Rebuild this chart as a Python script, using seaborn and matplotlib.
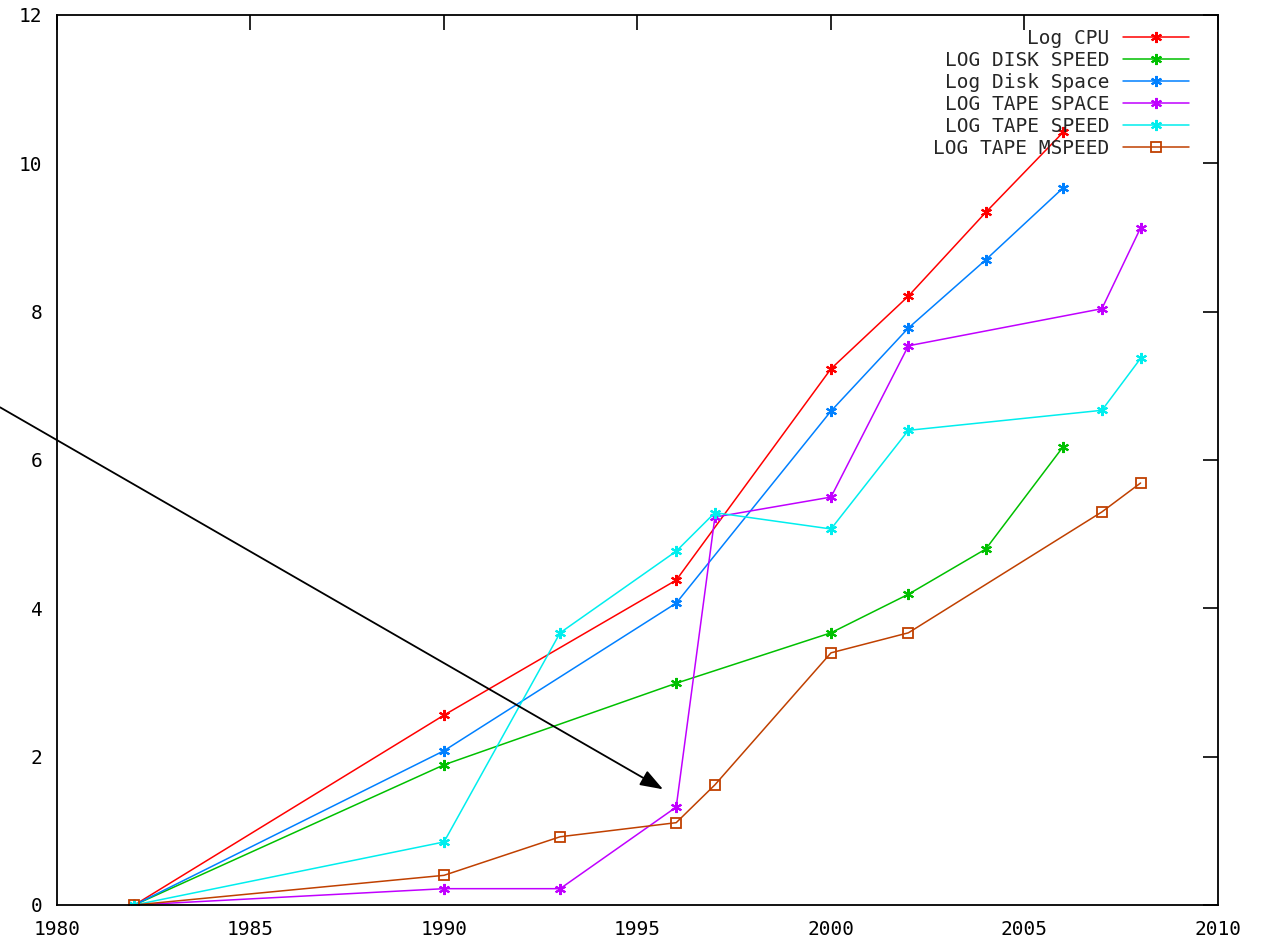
import matplotlib
matplotlib.use("Agg")
import matplotlib.pyplot as plt
import seaborn as sns
import pandas as pd

# ---- data ----
cpu_years = [1982, 1990, 1996, 2000, 2002, 2004, 2006]
cpu_vals = [0.0, 2.56, 4.38, 7.23, 8.21, 9.34, 10.42]

dspeed_years = [1982, 1990, 1996, 2000, 2002, 2004, 2006]
dspeed_vals = [0.0, 1.89, 2.99, 3.67, 4.19, 4.80, 6.18]

dspace_years = [1982, 1990, 1996, 2000, 2002, 2004, 2006]
dspace_vals = [0.0, 2.08, 4.07, 6.66, 7.78, 8.70, 9.67]

tspace_years = [1982, 1990, 1993, 1996, 1997, 2000, 2002, 2007, 2008]
tspace_vals = [0.0, 0.22, 0.22, 1.32, 5.23, 5.50, 7.54, 8.04, 9.13]

tspeed_years = [1982, 1990, 1993, 1996, 1997, 2000, 2002, 2007, 2008]
tspeed_vals = [0.0, 0.85, 3.67, 4.77, 5.29, 5.07, 6.40, 6.67, 7.37]

tmspeed_years = [1982, 1990, 1993, 1996, 1997, 2000, 2002, 2007, 2008]
tmspeed_vals = [0.0, 0.40, 0.92, 1.11, 1.62, 3.40, 3.67, 5.30, 5.69]

series_names = ["Log CPU", "LOG DISK SPEED", "Log Disk Space",
                "LOG TAPE SPACE", "LOG TAPE SPEED", "LOG TAPE MSPEED"]
series_colors = ["#ff0000", "#00c000", "#0080ff", "#c000ff", "#00eeee", "#c04000"]

x_ticks = [1980, 1985, 1990, 1995, 2000, 2005, 2010]
y_ticks = [0, 2, 4, 6, 8, 10, 12]

# arrow annotation (data coords)
arrow_tail = (1978.53, 6.71)
arrow_head = (1995.66, 1.56)

# ---- build table ----
all_series = [(cpu_years, cpu_vals), (dspeed_years, dspeed_vals),
              (dspace_years, dspace_vals), (tspace_years, tspace_vals),
              (tspeed_years, tspeed_vals), (tmspeed_years, tmspeed_vals)]
frames = []
for name, (xs, ys) in zip(series_names, all_series):
    frames.append(pd.DataFrame({"year": xs, "value": ys, "series": name}))
df = pd.concat(frames, ignore_index=True)

sns.set_style("white")
plt.rcParams["font.family"] = ["DejaVu Sans Mono", "DejaVu Sans"]

fig = plt.figure(figsize=(12.61, 9.38), dpi=100)
ax = fig.add_axes([57 / 1261, 1 - 905 / 938, (1218 - 57) / 1261, (905 - 15) / 938])

asterisk = (6, 2, 0)
for name, color in zip(series_names, series_colors):
    sub = df[df["series"] == name]
    if name == "LOG TAPE MSPEED":
        sns.lineplot(data=sub, x="year", y="value", ax=ax, color=color,
                     lw=1.1, marker="s", markersize=6.5, markerfacecolor="none",
                     markeredgecolor=color, markeredgewidth=1.3, label=name,
                     estimator=None, sort=False)
    else:
        sns.lineplot(data=sub, x="year", y="value", ax=ax, color=color,
                     lw=1.1, marker=asterisk, markersize=8,
                     markeredgecolor=color, markeredgewidth=1.5, label=name,
                     estimator=None, sort=False)

ax.set_xlim(1980, 2010)
ax.set_ylim(0, 12)
ax.set_xticks(x_ticks)
ax.set_yticks(y_ticks)
ax.set_xlabel("")
ax.set_ylabel("")
ax.tick_params(direction="in", length=11, width=1.2, top=True, right=True,
               labelsize=14, colors="black")
ax.tick_params(axis="x", pad=10.5)
ax.tick_params(axis="y", pad=10.5)
for s in ax.spines.values():
    s.set_color("black")
    s.set_linewidth(1.3)

ax.annotate("", xy=arrow_head, xytext=arrow_tail, annotation_clip=False,
            arrowprops=dict(arrowstyle="-|>,head_length=1.4,head_width=0.5",
                            color="black", lw=1.3, shrinkA=0, shrinkB=0))

leg = ax.legend(loc="upper right", bbox_to_anchor=(0.982, 0.993),
                markerfirst=False, frameon=False,
                fontsize=14, handlelength=3.4, labelspacing=0.15,
                borderaxespad=0.0, handletextpad=0.7)

fig.savefig("out.png", dpi=100)
